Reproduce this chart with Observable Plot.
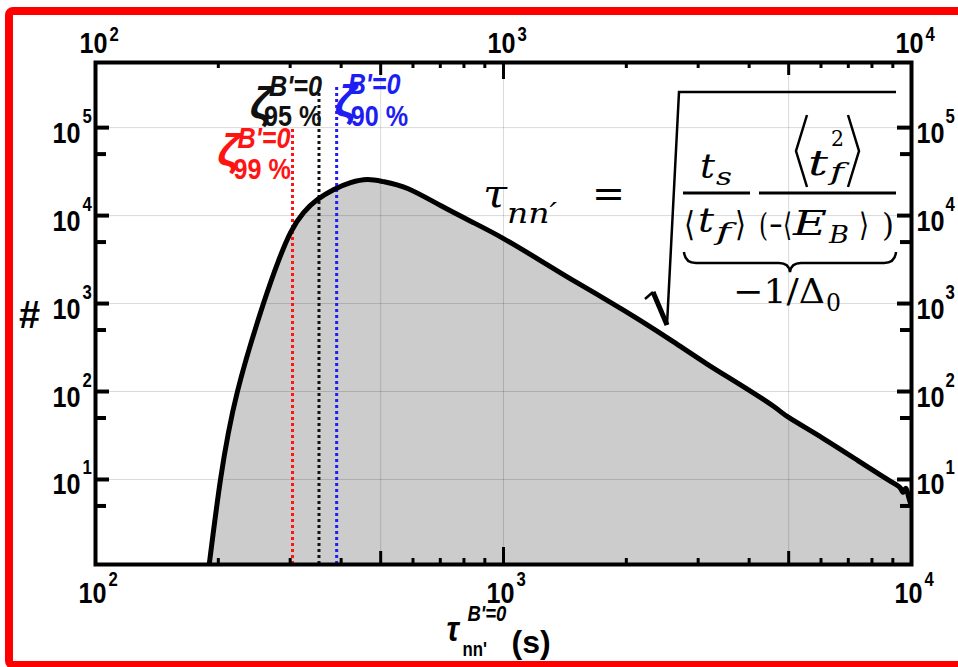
<!DOCTYPE html>
<html>
<head>
<meta charset="utf-8">
<script src="https://cdn.jsdelivr.net/npm/d3@7"></script>
<script src="https://cdn.jsdelivr.net/npm/@observablehq/plot@0.6"></script>
<style>
  html, body { margin: 0; padding: 0; background: #fff; overflow: hidden; }
  #chart svg { display: block; }
</style>
</head>
<body>
<div id="chart"></div>
<script>
// Distribution of the relaxation time tau_nn' (B'=0): time (s) and number of cases
const tauS = [190, 202.5, 222.8, 258, 281, 300.6, 323.6, 350, 383, 422, 464, 508, 582, 701, 844, 1000,
  1232, 1485, 1799, 2167, 2611, 3162, 3810, 4590, 5000, 6080, 7390, 8400, 9100, 9400, 9550, 9700, 9850, 10000];
const counts = [1.08, 10, 100, 1000, 3080, 6410, 10800, 15200, 19700, 23700, 25700, 24300, 20300, 13000, 8310, 5480,
  3080, 1820, 1082, 641, 367, 204, 119, 67.9, 50.7, 29.2, 16.4, 11.2, 8.9, 7.95, 7.2, 7.9, 6.2, 5.0];

// Threshold times zeta^{B'=0} for the three confidence levels
const zetaLevel = ["99 %", "95 %", "90 %"];
const zetaTau = [304, 353, 390];
const zetaTop = [1.0e5, 2.77e5, 2.9e5];

// Axis ticks
const decadesX = [100, 1000, 10000];
const midX = [500, 5000];
const minorX = [200, 300, 400, 600, 700, 800, 900, 2000, 3000, 4000, 6000, 7000, 8000, 9000];
const gridX = [500, 1000, 5000];
const decadesY = [10, 100, 1000, 10000, 100000];
const midY = [5, 50, 500, 5000, 50000];

const data = tauS.map((t, i) => ({tau: t, n: counts[i]}));

const W = 958, H = 667;
const mL = 95, mR = 47, mT = 62, mB = 103;
const plotW = W - mL - mR, plotH = H - mT - mB;
const yDomain = [1.08, 5.5e5];
const Y0 = yDomain[0];

// "cond" texts get horizontally condensed after rendering
const cond = "'Liberation Sans', Arial, Helvetica, sans-serif";
const sans = "'Liberation Sans', Arial, sans-serif";
const zetaColors = ["#ff1414", "#111111", "#1e1ef2"];
const exp = d => String(Math.round(Math.log10(d)));

const marks = [
  Plot.areaY(data, {x: "tau", y1: () => Y0, y2: "n", fill: "#cccccc", curve: "natural", clip: true}),
  Plot.ruleX(gridX, {stroke: "#000", strokeOpacity: 0.15, strokeWidth: 1}),
  Plot.ruleY(decadesY, {stroke: "#000", strokeOpacity: 0.15, strokeWidth: 1}),
];

// dotted threshold lines
zetaTau.forEach((t, i) => {
  marks.push(Plot.ruleX([t], {y1: Y0, y2: zetaTop[i], stroke: zetaColors[i], strokeWidth: 3, strokeDasharray: "3,3"}));
});

const lbl = {fontWeight: "bold", fontFamily: cond, fill: "#000", lineAnchor: "bottom"};
marks.push(
  Plot.lineY(data, {x: "tau", y: "n", stroke: "#000", strokeWidth: 5, curve: "natural", clip: true, strokeLinejoin: "round"}),
  // inward ticks, bottom and top
  Plot.tickX(decadesX, {insetTop: plotH - 17, stroke: "#000", strokeWidth: 3}),
  Plot.tickX(midX, {insetTop: plotH - 13, stroke: "#000", strokeWidth: 3}),
  Plot.tickX(minorX, {insetTop: plotH - 6, stroke: "#000", strokeWidth: 3}),
  Plot.tickX(decadesX, {insetBottom: plotH - 17, stroke: "#000", strokeWidth: 3}),
  Plot.tickX(midX, {insetBottom: plotH - 13, stroke: "#000", strokeWidth: 3}),
  Plot.tickX(minorX, {insetBottom: plotH - 6, stroke: "#000", strokeWidth: 3}),
  // inward ticks, left and right
  Plot.tickY(decadesY, {insetRight: plotW - 14, stroke: "#000", strokeWidth: 4}),
  Plot.tickY(midY, {insetRight: plotW - 11, stroke: "#000", strokeWidth: 4}),
  Plot.tickY(decadesY, {insetLeft: plotW - 14, stroke: "#000", strokeWidth: 4}),
  Plot.tickY(midY, {insetLeft: plotW - 11, stroke: "#000", strokeWidth: 4}),
  Plot.frame({stroke: "#000", strokeWidth: 4}),

  // x tick labels (bottom and top)
  Plot.text(decadesX, {...lbl, x: d => d, text: () => "10", frameAnchor: "bottom", textAnchor: "end", dx: 11, dy: 38, fontSize: 30}),
  Plot.text(decadesX, {...lbl, x: d => d, text: exp, frameAnchor: "bottom", textAnchor: "start", dx: 13, dy: 21, fontSize: 20}),
  Plot.text(decadesX, {...lbl, x: d => d, text: () => "10", frameAnchor: "top", textAnchor: "end", dx: 12, dy: -10, fontSize: 30}),
  Plot.text(decadesX, {...lbl, x: d => d, text: exp, frameAnchor: "top", textAnchor: "start", dx: 14, dy: -22, fontSize: 20}),

  // y tick labels (left and right)
  Plot.text(decadesY, {...lbl, y: d => d, text: () => "10", frameAnchor: "left", textAnchor: "end", dx: -15, dy: 15, fontSize: 30}),
  Plot.text(decadesY, {...lbl, y: d => d, text: exp, frameAnchor: "left", textAnchor: "start", dx: -13, dy: -5, fontSize: 20}),
  Plot.text(decadesY, {...lbl, y: d => d, text: () => "10", frameAnchor: "right", textAnchor: "start", dx: 5, dy: 15, fontSize: 30}),
  Plot.text(decadesY, {...lbl, y: d => d, text: exp, frameAnchor: "right", textAnchor: "start", dx: 34, dy: -5, fontSize: 20}),

  // axis titles
  Plot.text(["#"], {frameAnchor: "left", lineAnchor: "bottom", textAnchor: "middle", dx: -66, dy: 14,
    fontSize: 38, fontWeight: "bold", fontFamily: sans, fill: "#000"}),
  Plot.text(["\u03c4"], {...lbl, frameAnchor: "bottom", textAnchor: "start", dx: -57, dy: 76, fontSize: 36, fontStyle: "italic"}),
  Plot.text(["B'=0"], {...lbl, frameAnchor: "bottom", textAnchor: "start", dx: -36, dy: 56, fontSize: 22, fontStyle: "italic"}),
  Plot.text(["nn'"], {...lbl, frameAnchor: "bottom", textAnchor: "start", dx: -41, dy: 91, fontSize: 20}),
  Plot.text(["(s)"], {frameAnchor: "bottom", lineAnchor: "bottom", textAnchor: "start", dx: 8, dy: 88,
    fontSize: 32, fontWeight: "bold", fontFamily: sans, fill: "#000"})
);

// zeta labels next to the dotted lines
const zetaOffsets = [
  {z: -75, zy: 102, b: -55, by: 85, p: -59, py: 116},
  {z: -69, zy: 55, b: -50, by: 33, p: -55, py: 63},
  {z: -2, zy: 53, b: 11, by: 31, p: 14, py: 63}
];
zetaTau.forEach((t, i) => {
  const o = zetaOffsets[i], c = zetaColors[i];
  marks.push(
    Plot.text([t], {x: d => d, text: () => "\u03b6", frameAnchor: "top", lineAnchor: "bottom", textAnchor: "start",
      dx: o.z, dy: o.zy, fontSize: 45, fontWeight: "bold", fontStyle: "italic", fontFamily: sans, fill: c}),
    Plot.text([t], {...lbl, x: d => d, text: () => "B'=0", frameAnchor: "top", textAnchor: "start",
      dx: o.b, dy: o.by, fontSize: 30, fontStyle: "italic", fill: c}),
    Plot.text([t], {...lbl, x: d => d, text: () => zetaLevel[i], frameAnchor: "top", textAnchor: "start",
      dx: o.p, dy: o.py, fontSize: 30, fill: c})
  );
});

const chart = Plot.plot({
  width: W, height: H,
  marginLeft: mL, marginRight: mR, marginTop: mT, marginBottom: mB,
  style: {background: "#fff", overflow: "visible"},
  x: {type: "log", domain: [100, 10000], axis: null},
  y: {type: "log", domain: yDomain, axis: null},
  marks
});

// formula: tau_nn' = sqrt( t_s/<t_f> * <t_f^2>/(-<E_B>) ), with the underbraced factor -1/Delta_0
const svg = d3.select(chart);
const g = svg.append("g").attr("fill", "#000").attr("text-anchor", "start");
const serif = "'DejaVu Serif', 'Liberation Serif', serif";
function mtext(x, y, size, str, o = {}) {
  const t = g.append("text").attr("x", x).attr("y", y).attr("font-size", size)
    .attr("font-family", o.family || serif)
    .attr("font-style", o.italic ? "italic" : "normal").text(str);
  if (o.len) t.attr("textLength", o.len).attr("lengthAdjust", "spacingAndGlyphs");
  return t;
}
mtext(483, 207, 40, "\u03c4", {italic: true, len: 24});
mtext(507, 223, 28, "nn\u2032", {italic: true, len: 50});
mtext(592, 207, 40, "=", {len: 33});
// first fraction
mtext(700, 178, 34, "t", {italic: true, len: 15});
mtext(716, 185, 24, "s", {italic: true, len: 16});
mtext(684, 236, 34, "\u27e8", {len: 11});
mtext(698, 232, 34, "t", {italic: true, len: 16});
mtext(716, 240, 24, "f", {italic: true, len: 15});
mtext(735, 236, 34, "\u27e9", {len: 11});
// second fraction
mtext(808, 175, 36, "t", {italic: true, len: 20});
mtext(831, 146, 22, "2", {len: 13});
mtext(830, 180, 24, "f", {italic: true, len: 14});
mtext(759, 236, 32, "(", {len: 9});
mtext(769, 236, 32, "\u2212", {len: 14});
mtext(783, 236, 32, "\u27e8", {len: 9});
mtext(793, 235, 34, "E", {italic: true, len: 34});
mtext(829, 243, 24, "B", {italic: true, len: 20});
mtext(859, 236, 32, "\u27e9", {len: 10});
mtext(882, 236, 32, ")", {len: 12});
mtext(733, 303, 34, "\u22121/\u0394", {len: 92});
mtext(826, 311, 24, "0", {len: 15});

const lines = svg.append("g").attr("fill", "none").attr("stroke", "#000").attr("stroke-linejoin", "miter");
lines.append("path").attr("d", "M683,193H750M759,193H896").attr("stroke-width", 3);
// tall angle brackets around t_f^2
lines.append("path").attr("d", "M807,115L796,151L807,187M848,115L859,151L848,187").attr("stroke-width", 2.5);
// radical sign
lines.append("path").attr("d", "M645,299L653,292").attr("stroke-width", 2.5);
lines.append("path").attr("d", "M653,292L667,325").attr("stroke-width", 5);
lines.append("path").attr("d", "M667,325L679,92H896").attr("stroke-width", 2.5);
// underbrace
lines.append("path").attr("d", "M684,252Q685,263 696,263H779Q789,263 790,272Q791,263 801,263H884Q895,263 896,252")
  .attr("stroke-width", 2.5);

// page border (open on the right, where the page is cut)
svg.append("rect").attr("x", 9).attr("y", 11).attr("width", 970).attr("height", 654).attr("rx", 4)
  .attr("fill", "none").attr("stroke", "#ff0000").attr("stroke-width", 8);

document.getElementById("chart").append(chart);

// condense the Arial-style labels to a narrow face
svg.selectAll("g").filter(function() { return (this.getAttribute("font-family") || "").includes("Helvetica"); })
  .selectAll("text").each(function() {
    const w = this.getComputedTextLength();
    this.setAttribute("textLength", (w * 0.84).toFixed(1));
    this.setAttribute("lengthAdjust", "spacingAndGlyphs");
  });
</script>
</body>
</html>
